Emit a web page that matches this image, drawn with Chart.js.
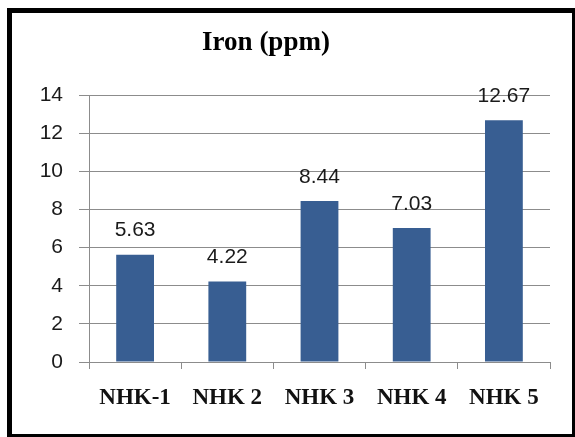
<!DOCTYPE html>
<html>
<head>
<meta charset="utf-8">
<title>Iron (ppm)</title>
<script src="https://cdn.jsdelivr.net/npm/chart.js@4/dist/chart.umd.min.js"></script>
<style>
    html, body { margin: 0; padding: 0; background: #fff; overflow: hidden; }
    #wrap { position: relative; width: 575px; height: 437px; }
    #frame {
        position: absolute; left: 7px; top: 8px; width: 570px; height: 431px;
        border: 5px solid #000; box-sizing: border-box; pointer-events: none;
    }
    canvas { position: absolute; left: 0; top: 0; }
</style>
</head>
<body>
<div id="wrap">
    <canvas id="ironChart" width="575" height="437"></canvas>
    <div id="frame"></div>
</div>
<script>
// Sample sites and measured iron content
const sites = ['NHK-1', 'NHK 2', 'NHK 3', 'NHK 4', 'NHK 5'];
const ironPpm = [5.63, 4.22, 8.44, 7.03, 12.67];
const yTicks = [0, 2, 4, 6, 8, 10, 12, 14];

const titleText = 'Iron (ppm)';

// Draw the chart title at a fixed spot above the plot
const titlePlugin = {
    id: 'fixedTitle',
    afterDraw(chart) {
        const ctx = chart.ctx;
        ctx.save();
        ctx.font = 'bold 27px "Liberation Serif", "Times New Roman", serif';
        ctx.fillStyle = '#000';
        ctx.textAlign = 'center';
        ctx.textBaseline = 'alphabetic';
        ctx.fillText(titleText, 266, 50);
        ctx.restore();
    }
};

// Value labels above each bar
const valueLabels = {
    id: 'valueLabels',
    afterDatasetsDraw(chart) {
        const ctx = chart.ctx;
        const meta = chart.getDatasetMeta(0);
        ctx.save();
        ctx.font = '21px "Liberation Sans", Arial, sans-serif';
        ctx.fillStyle = '#1a1a1a';
        ctx.textAlign = 'center';
        ctx.textBaseline = 'middle';
        meta.data.forEach((bar, i) => {
            ctx.fillText(ironPpm[i].toFixed(2), bar.x, bar.y - 24);
        });
        ctx.restore();
    }
};

const ctx = document.getElementById('ironChart').getContext('2d');
const chart = new Chart(ctx, {
    type: 'bar',
    data: {
        labels: sites,
        datasets: [{
            data: ironPpm,
            backgroundColor: '#385E92',
            borderWidth: 0,
            barPercentage: 0.41,
            categoryPercentage: 1
        }]
    },
    options: {
        responsive: false,
        animation: false,
        events: [],
        layout: { padding: { left: 0, right: 25, top: 95, bottom: 0 } },
        plugins: {
            legend: { display: false },
            title: { display: false },
            tooltip: { enabled: false }
        },
        scales: {
            x: {
                grid: {
                    offset: true,
                    drawOnChartArea: false,
                    drawTicks: true,
                    tickLength: 7,
                    color: '#8c8c8c'
                },
                border: { color: '#8c8c8c' },
                ticks: {
                    color: '#111',
                    padding: 15,
                    font: { family: '"Liberation Serif", "Times New Roman", serif', size: 23, weight: 'bold' }
                },
                afterFit(scale) { scale.height = 75; }
            },
            y: {
                min: 0,
                max: 14,
                afterBuildTicks(scale) {
                    scale.ticks = yTicks.map(v => ({ value: v }));
                },
                grid: {
                    color: '#8c8c8c',
                    tickLength: 10
                },
                border: { color: '#8c8c8c' },
                ticks: {
                    color: '#1a1a1a',
                    padding: 16,
                    font: { family: '"Liberation Sans", Arial, sans-serif', size: 21 }
                },
                afterFit(scale) { scale.width = 89; }
            }
        }
    },
    plugins: [titlePlugin, valueLabels]
});
</script>
</body>
</html>
